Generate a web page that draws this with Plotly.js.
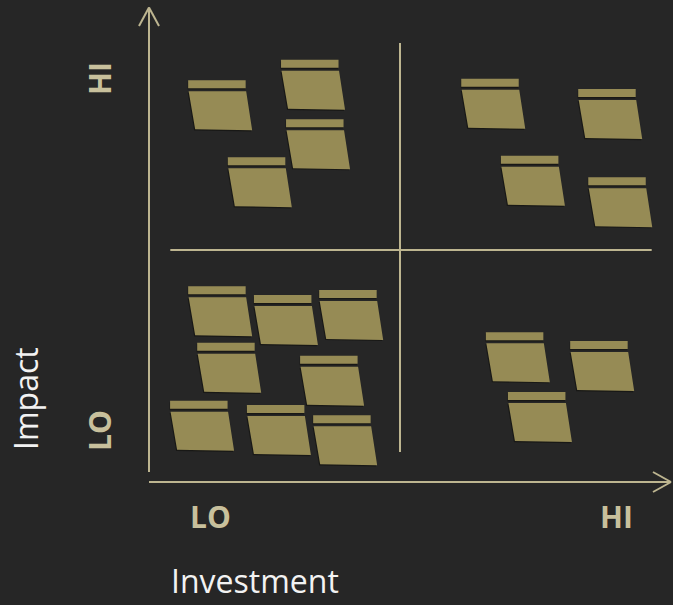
<!DOCTYPE html>
<html>
<head>
<meta charset="utf-8">
<script src="https://cdn.plot.ly/plotly-3.0.1.min.js"></script>
<style>
  html, body { margin: 0; padding: 0; background: #262626; }
  #chart { width: 673px; height: 605px; }
</style>
</head>
<body>
<div id="chart"></div>
<script>
// ---------------- DATA ----------------
// Each sticky note: position (top-left of its header strip) on the Investment / Impact scale (0–100)
const noteInvestment = [7.8, 26.3, 27.3, 15.7, 62.2, 85.5, 70.1, 87.5, 7.8, 20.9, 33.9, 9.6, 30.1, 4.2, 19.5, 32.7, 67.1, 83.9, 71.5];
const noteImpact     = [86.6, 91.0, 78.2, 70.0, 86.9, 84.7, 70.3, 65.7, 42.2, 40.3, 41.4, 30.0, 27.2, 17.5, 16.6, 14.4, 32.3, 30.4, 19.4];
const levelLabels = ["LO", "HI"];
const xAxisTitle = "Investment";
const yAxisTitle = "Impact";
const quadrantSplit = 50;

// ---------------- LAYOUT / STYLE ----------------
const W = 673, H = 605;
const pxX0 = 149, pxPerX = 5.02;   // investment 0 at pixel 149
const pxY0 = 482, pxPerY = 4.64;   // impact 0 at pixel 482
const xRange = [-pxX0 / pxPerX, (W - pxX0) / pxPerX];
const yRange = [(pxY0 - H) / pxPerY, pxY0 / pxPerY];
const dx = p => p / pxPerX;        // pixel offsets -> data offsets
const dy = p => -p / pxPerY;

const BG = "#262626";
const NOTE = "#968b55";
const LINE = "#bdb590";
const LABEL = "#c8c09c";
const TITLE = "#f2f2f2";

// note geometry in pixels relative to header top-left (y down)
const headerPoly = [[0, 0], [57.5, 0], [57.5, 8], [0, 8]];
const bodyPoly = [[0.5, 11], [58, 11], [64, 50], [7, 49]];
const shadowHeader = headerPoly.map(([a, b]) => [a - 0.5, b + 1.4]);
const shadowBody = bodyPoly.map(([a, b]) => [a - 1.0, b + 1.2]);

function polyTrace(polys, color) {
  const xs = [], ys = [];
  noteInvestment.forEach((x0, i) => {
    const y0 = noteImpact[i];
    polys.forEach(poly => {
      poly.forEach(([a, b]) => { xs.push(x0 + dx(a)); ys.push(y0 + dy(b)); });
      xs.push(x0 + dx(poly[0][0])); ys.push(y0 + dy(poly[0][1]));
      xs.push(null); ys.push(null);
    });
  });
  return {
    type: "scatter", mode: "lines", x: xs, y: ys,
    fill: "toself", fillcolor: color,
    line: { width: 0, color: color },
    hoverinfo: "skip", showlegend: false
  };
}

const traces = [
  polyTrace([shadowHeader, shadowBody], "rgba(8,8,4,0.45)"),
  polyTrace([headerPoly, bodyPoly], NOTE)
];

function seg(x0, y0, x1, y1, w) {
  return { type: "line", xref: "x", yref: "y", x0, y0, x1, y1,
           line: { color: LINE, width: w }, layer: "below" };
}
const yTip = (pxY0 - 7.5) / pxPerY;
const xTip = (671 - pxX0) / pxPerX;
const shapes = [
  // vertical axis with open arrow
  seg(0, (pxY0 - 472) / pxPerY, 0, yTip, 2),
  seg(0, yTip, dx(-10), yTip + dy(18.5), 2),
  seg(0, yTip, dx(10), yTip + dy(18.5), 2),
  // horizontal axis with open arrow
  seg(0, 0, xTip, 0, 2.2),
  seg(xTip, 0, xTip - dx(18), dy(10), 2),
  seg(xTip, 0, xTip - dx(18), dy(-10), 2),
  // quadrant dividers
  seg(quadrantSplit, (pxY0 - 452) / pxPerY, quadrantSplit, (pxY0 - 43) / pxPerY, 2),
  seg((170.3 - pxX0) / pxPerX, quadrantSplit, (651.7 - pxX0) / pxPerX, quadrantSplit, 2)
];

function ann(text, px, py, size, color, weight, angle) {
  return { text, x: (px - pxX0) / pxPerX, y: (pxY0 - py) / pxPerY, xref: "x", yref: "y",
           showarrow: false, textangle: angle || 0, xanchor: "center", yanchor: "middle",
           font: { family: "Open Sans, sans-serif", size, color, weight } };
}
const annotations = [
  ann(levelLabels[0], 210, 516, 30, LABEL, 700),
  ann(levelLabels[1], 616, 516, 30, LABEL, 700),
  ann(levelLabels[0], 99, 431, 30, LABEL, 700, -90),
  ann(levelLabels[1], 99, 79, 30, LABEL, 700, -90),
  ann(xAxisTitle, 255, 580, 32, TITLE, 400),
  ann(yAxisTitle, 25, 399, 32, TITLE, 400, -90)
];

const layout = {
  width: W, height: H,
  margin: { l: 0, r: 0, t: 0, b: 0, pad: 0 },
  paper_bgcolor: BG, plot_bgcolor: BG,
  xaxis: { range: xRange, visible: false, fixedrange: true, showgrid: false, zeroline: false },
  yaxis: { range: yRange, visible: false, fixedrange: true, showgrid: false, zeroline: false },
  shapes, annotations, showlegend: false
};

Plotly.newPlot("chart", traces, layout, { displayModeBar: false, staticPlot: true });
</script>
</body>
</html>
